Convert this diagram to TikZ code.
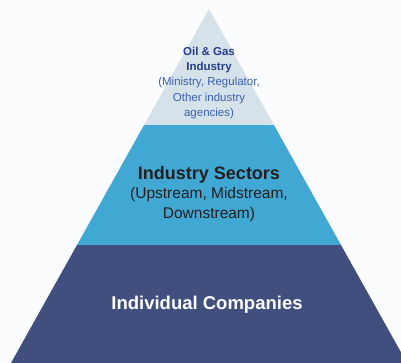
\documentclass[tikz,border=0pt]{standalone}
\usepackage{fontspec}
\setmainfont{Liberation Sans}
\usetikzlibrary{calc,positioning,backgrounds}

\definecolor{pagebg}{HTML}{FAFCFE}
\definecolor{toptier}{HTML}{D5E2EA}
\definecolor{midtier}{HTML}{41A8D3}
\definecolor{basetier}{HTML}{414F7E}
\definecolor{toptitle}{HTML}{263C8C}
\definecolor{topnote}{HTML}{3A5FB0}
\definecolor{midtext}{HTML}{231F20}

\begin{document}
\begin{tikzpicture}[x=1pt,y=1pt,
                tier/.style={draw=none},
                label text/.style={align=center, inner sep=0pt}]
            \fill[pagebg] (0,0) rectangle (401,363);
            \useasboundingbox (0,0) rectangle (401,363);
            \clip (0,0) rectangle (401,363);

            \coordinate (apex) at (209,354);
            \coordinate (bl) at (11,0);
            \coordinate (br) at (407,0);
            \coordinate (l1) at ($(apex)!0.328!(bl)$);
            \coordinate (r1) at ($(apex)!0.328!(br)$);
            \coordinate (l2) at ($(apex)!0.667!(bl)$);
            \coordinate (r2) at ($(apex)!0.667!(br)$);

            \fill[tier, toptier] (apex) -- (r1) -- (l1) -- cycle;
            \fill[tier, midtier] (l1) -- (r1) -- (r2) -- (l2) -- cycle;
            \fill[tier, basetier] (l2) -- (r2) -- (br) -- (bl) -- cycle;

            \node[label text, font=\fontsize{11.5}{15.4}\selectfont, text=topnote] (oilgas) at (209,280)
                {{\bfseries\color{toptitle}Oil \& Gas}\\
                 {\bfseries\color{toptitle}Industry}\\
                 (Ministry, Regulator,\\
                 Other industry\\
                 agencies)};
            \node[label text, font=\fontsize{15.5}{19.5}\selectfont, text=midtext] (sectors) at (209,169)
                {{\fontsize{18}{19.5}\selectfont\bfseries Industry Sectors}\\
                 (Upstream, Midstream,\\
                 Downstream)};
            \node[label text, font=\fontsize{18.5}{22}\selectfont\bfseries, text=white] (companies) at (207,58)
                {Individual Companies};
        \end{tikzpicture}
\end{document}
